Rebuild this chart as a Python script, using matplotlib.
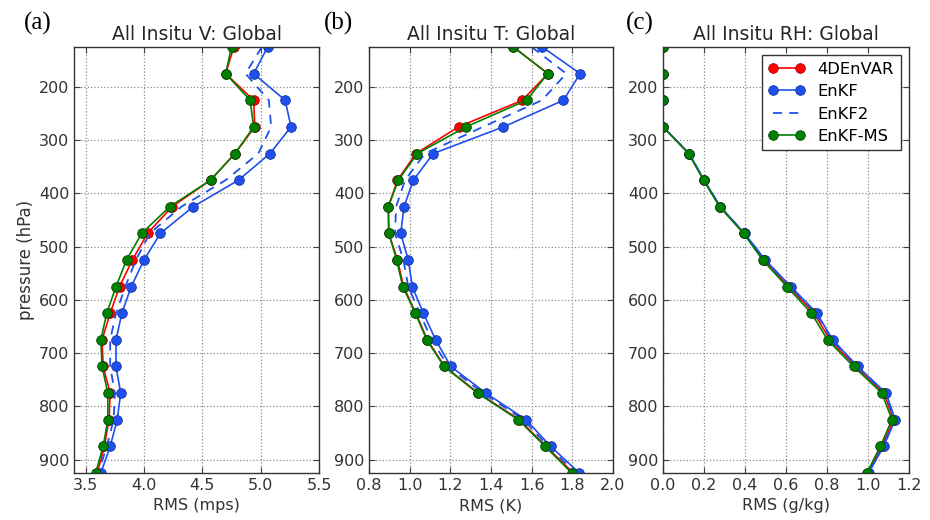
import matplotlib
matplotlib.use('Agg')
import matplotlib.pyplot as plt
import numpy as np

plt.rcParams['font.family'] = ['DejaVu Sans']

levels = [125, 175, 225, 275, 325, 375, 425, 475, 525, 575, 625, 675, 725, 775, 825, 875, 925]

# wind RMS (m/s)
v_4denvar = [4.77, 4.70, 4.94, 4.95, 4.78, 4.57, 4.24, 4.03, 3.90, 3.79, 3.71, 3.64, 3.65, 3.71, 3.70, 3.66, 3.60]
v_enkf = [5.06, 4.94, 5.21, 5.26, 5.08, 4.81, 4.42, 4.14, 4.00, 3.89, 3.81, 3.76, 3.76, 3.80, 3.77, 3.71, 3.63]
v_enkf2 = [5.01, 4.87, 5.07, 5.09, 4.98, 4.70, 4.32, 4.05, 3.93, 3.84, 3.76, 3.71, 3.71, 3.75, 3.74, 3.68, 3.61]
v_enkfms = [4.75, 4.70, 4.91, 4.94, 4.78, 4.57, 4.22, 3.98, 3.85, 3.76, 3.68, 3.63, 3.64, 3.69, 3.69, 3.65, 3.585]

# temperature RMS (K)
t_4denvar = [1.51, 1.68, 1.554, 1.24, 1.031, 0.94, 0.895, 0.897, 0.94, 0.97, 1.03, 1.087, 1.172, 1.338, 1.54, 1.67, 1.805]
t_enkf = [1.652, 1.838, 1.756, 1.461, 1.116, 1.018, 0.972, 0.956, 0.993, 1.013, 1.067, 1.128, 1.202, 1.375, 1.572, 1.693, 1.834]
t_enkf2 = [1.60, 1.77, 1.65, 1.36, 1.075, 0.977, 0.933, 0.928, 0.969, 0.993, 1.05, 1.108, 1.19, 1.36, 1.56, 1.68, 1.82]
t_enkfms = [1.51, 1.679, 1.575, 1.277, 1.038, 0.944, 0.895, 0.897, 0.936, 0.966, 1.028, 1.084, 1.169, 1.334, 1.534, 1.666, 1.797]

# humidity RMS (g/kg)
q_4denvar = [0.0, 0.0, 0.0, 0.0, 0.126, 0.199, 0.278, 0.395, 0.492, 0.614, 0.737, 0.815, 0.94, 1.078, 1.125, 1.068, 0.999]
q_enkf = [0.0, 0.0, 0.0, 0.0, 0.128, 0.200, 0.280, 0.398, 0.499, 0.624, 0.751, 0.828, 0.95, 1.088, 1.133, 1.076, 1.003]
q_enkf2 = [0.0, 0.0, 0.0, 0.0, 0.128, 0.200, 0.280, 0.397, 0.497, 0.621, 0.747, 0.825, 0.947, 1.085, 1.131, 1.074, 1.002]
q_enkfms = [0.0, 0.0, 0.0, 0.0, 0.125, 0.198, 0.276, 0.393, 0.486, 0.605, 0.724, 0.803, 0.93, 1.068, 1.117, 1.060, 0.995]

red = '#ff0000'
blue = '#1f50ee'
green = '#008000'

panels = [
    ('(a)', 'All Insitu V: Global', 'RMS (mps)', (3.4, 5.5), np.arange(3.5, 5.51, 0.5),
     v_4denvar, v_enkf, v_enkf2, v_enkfms),
    ('(b)', 'All Insitu T: Global', 'RMS (K)', (0.8, 2.0), np.arange(0.8, 2.01, 0.2),
     t_4denvar, t_enkf, t_enkf2, t_enkfms),
    ('(c)', 'All Insitu RH: Global', 'RMS (g/kg)', (0.0, 1.2), np.arange(0.0, 1.21, 0.2),
     q_4denvar, q_enkf, q_enkf2, q_enkfms),
]

fig = plt.figure(figsize=(9.3, 5.2), dpi=100)
lefts = [0.0796, 0.3968, 0.7129]
widths = [0.2634, 0.2624, 0.2645]
label_x = [0.026, 0.348, 0.673]

for i, (tag, title, xlabel, xlim, xticks, a, b, c, d) in enumerate(panels):
    ax = fig.add_axes([lefts[i], 0.0904, widths[i], 0.8192])
    ax.plot(a, levels, '-o', color=red, mec='#990000', mew=0.5, ms=7, lw=1.2, label='4DEnVAR')
    ax.plot(b, levels, '-o', color=blue, mec='#0a2a90', mew=0.5, ms=7, lw=1.2, label='EnKF')
    ax.plot(c, levels, '--', color=blue, lw=1.3, dashes=(5, 4), label='EnKF2')
    ax.plot(d, levels, '-o', color=green, mec='#004000', mew=0.5, ms=7, lw=1.2, label='EnKF-MS')

    ax.set_xlim(*xlim)
    ax.set_xticks(xticks)
    ax.set_xticklabels(['%.1f' % t for t in xticks])
    ax.set_ylim(925, 125)
    ax.set_yticks(range(200, 901, 100))
    ax.grid(True, ls=':', color='0.55', lw=0.9)
    ax.tick_params(direction='in', top=True, right=True, length=4, labelsize=11.5,
                   colors='0.25', labelcolor='0.2')
    for sp in ax.spines.values():
        sp.set_color('0.2')
        sp.set_linewidth(1.0)
    ax.set_title(title, fontsize=13.5, color='0.15', pad=5)
    ax.set_xlabel(xlabel, fontsize=11.5, color='0.2', labelpad=4)
    if i == 0:
        ax.set_ylabel('pressure (hPa)', fontsize=12, color='0.2', labelpad=3)
    if i == 2:
        leg = ax.legend(loc='upper right', numpoints=2, fontsize=11.8, fancybox=False,
                        framealpha=1, edgecolor='0.2', handlelength=2.2, borderaxespad=0.5,
                        labelspacing=0.45)
        leg.get_frame().set_linewidth(1.0)
    fig.text(label_x[i], 0.978, tag, family='Liberation Serif', fontsize=18, va='top', ha='left')

fig.savefig('out.png', dpi=100)
